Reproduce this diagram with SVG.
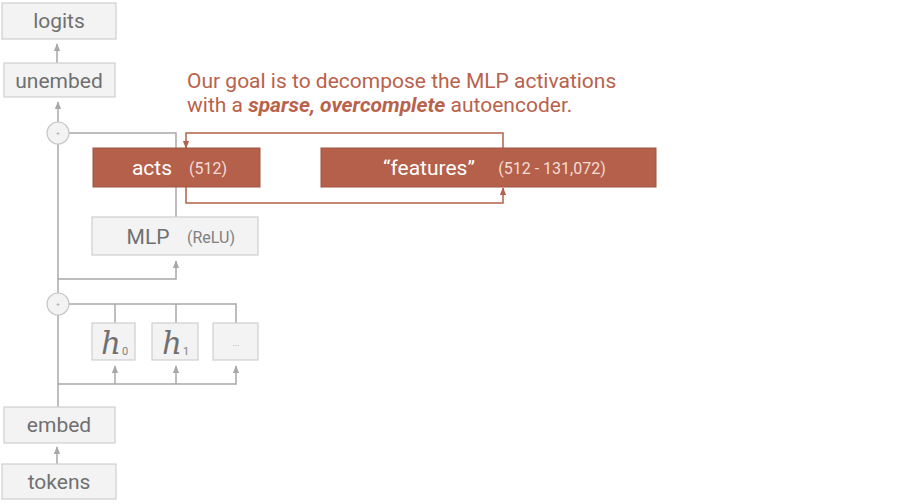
<svg xmlns="http://www.w3.org/2000/svg" width="897" height="504" viewBox="0 0 897 504">
<defs>
<style>
.box{fill:#f3f3f3;stroke:#cfcfcf;stroke-width:1.2}
.rbox{fill:#b5604a;stroke:#9e5541;stroke-width:1}
.lbl{font-family:Roboto,"Liberation Sans",sans-serif;font-size:21px;fill:#707070;text-anchor:middle}
.sm{font-family:Roboto,"Liberation Sans",sans-serif;font-size:16px;fill:#808080;text-anchor:middle}
.wl{font-family:Roboto,"Liberation Sans",sans-serif;font-size:21px;fill:#ffffff;text-anchor:middle}
.ws{font-family:Roboto,"Liberation Sans",sans-serif;font-size:16px;fill:#f3ddd6;text-anchor:middle}
.gc{fill:none;stroke:#a8a8a8;stroke-width:1.5}
.rc{fill:none;stroke:#b5604a;stroke-width:1.5}
.title{font-family:Roboto,"Liberation Sans",sans-serif;font-size:21px;fill:#b9624b}
.math{font-family:"DejaVu Serif","Liberation Serif",serif;font-style:italic;font-size:31px;fill:#707070}
</style>
<marker id="ga" viewBox="0 0 10 10" refX="9" refY="5" markerWidth="8" markerHeight="8" orient="auto" markerUnits="userSpaceOnUse"><path d="M0,1 L10,5 L0,9 z" fill="#a8a8a8"/></marker>
<marker id="ra" viewBox="0 0 10 10" refX="9" refY="5" markerWidth="8" markerHeight="8" orient="auto" markerUnits="userSpaceOnUse"><path d="M0,1 L10,5 L0,9 z" fill="#b5604a"/></marker>
</defs>
<g id="connectors">
<path class="gc" d="M57,63 V44" marker-end="url(#ga)"/>
<path class="gc" d="M58,122 V102" marker-end="url(#ga)"/>
<path class="gc" d="M69,133 H176 V148"/>
<path class="gc" d="M176,187 V217"/>
<path class="gc" d="M58,293 V144"/>
<path class="gc" d="M58,279 H176 V261" marker-end="url(#ga)"/>
<path class="gc" d="M69,304 H236 V323"/>
<path class="gc" d="M115,304 V323"/>
<path class="gc" d="M176,304 V323"/>
<path class="gc" d="M58,407 V315"/>
<path class="gc" d="M58,384 H236 V366" marker-end="url(#ga)"/>
<path class="gc" d="M115,384 V366" marker-end="url(#ga)"/>
<path class="gc" d="M176,384 V366" marker-end="url(#ga)"/>
<path class="gc" d="M57,464 V447" marker-end="url(#ga)"/>
<path class="rc" d="M503,148 V133 H186 V148" marker-end="url(#ra)"/>
<path class="rc" d="M186,187 V203 H503 V188" marker-end="url(#ra)"/>
</g>
<g id="logits"><rect class="box" x="2" y="3" width="114" height="36"/><text class="lbl" x="59" y="28">logits</text></g>
<g id="unembed"><rect class="box" x="4" y="63" width="111" height="34"/><text class="lbl" x="59" y="88">unembed</text></g>
<g id="plus1"><circle cx="58" cy="133" r="11" fill="#f3f3f3" stroke="#c8c8c8" stroke-width="1.2"/><text x="58" y="135" font-family="Roboto,sans-serif" font-size="6" fill="#999" text-anchor="middle">+</text></g>
<g id="acts"><rect class="rbox" x="93" y="148" width="167" height="39"/><text class="wl" x="152" y="175">acts</text><text class="ws" x="208" y="174">(512)</text></g>
<g id="features"><rect class="rbox" x="321" y="148" width="335" height="39"/><text class="wl" x="429" y="175">“features”</text><text class="ws" x="552" y="174">(512 - 131,072)</text></g>
<g id="mlp"><rect class="box" x="92" y="217" width="166" height="38"/><text class="lbl" x="148" y="244">MLP</text><text class="sm" x="211" y="243">(ReLU)</text></g>
<g id="plus2"><circle cx="58" cy="304" r="11" fill="#f3f3f3" stroke="#c8c8c8" stroke-width="1.2"/><text x="58" y="306" font-family="Roboto,sans-serif" font-size="6" fill="#999" text-anchor="middle">+</text></g>
<g id="h0"><rect class="box" x="92" y="323" width="43" height="37"/><text class="math" x="101" y="354">h</text><text x="122" y="355" font-family="Roboto,sans-serif" font-size="11" fill="#808080">0</text></g>
<g id="h1"><rect class="box" x="152" y="323" width="46" height="37"/><text class="math" x="162" y="354">h</text><text x="183" y="355" font-family="Roboto,sans-serif" font-size="11" fill="#808080">1</text></g>
<g id="dots"><rect class="box" x="213" y="323" width="45" height="37"/><text x="236" y="346" font-family="Roboto,sans-serif" font-size="9" fill="#999" text-anchor="middle">...</text></g>
<g id="embed"><rect class="box" x="4" y="407" width="111" height="36"/><text class="lbl" x="59" y="432">embed</text></g>
<g id="tokens"><rect class="box" x="2" y="464" width="114" height="35"/><text class="lbl" x="59" y="489">tokens</text></g>
<g id="caption">
<text class="title" x="187" y="88">Our goal is to decompose the MLP activations</text>
<text class="title" x="187" y="112">with a <tspan font-weight="bold" font-style="italic">sparse, overcomplete</tspan> autoencoder.</text>
</g>
</svg>
